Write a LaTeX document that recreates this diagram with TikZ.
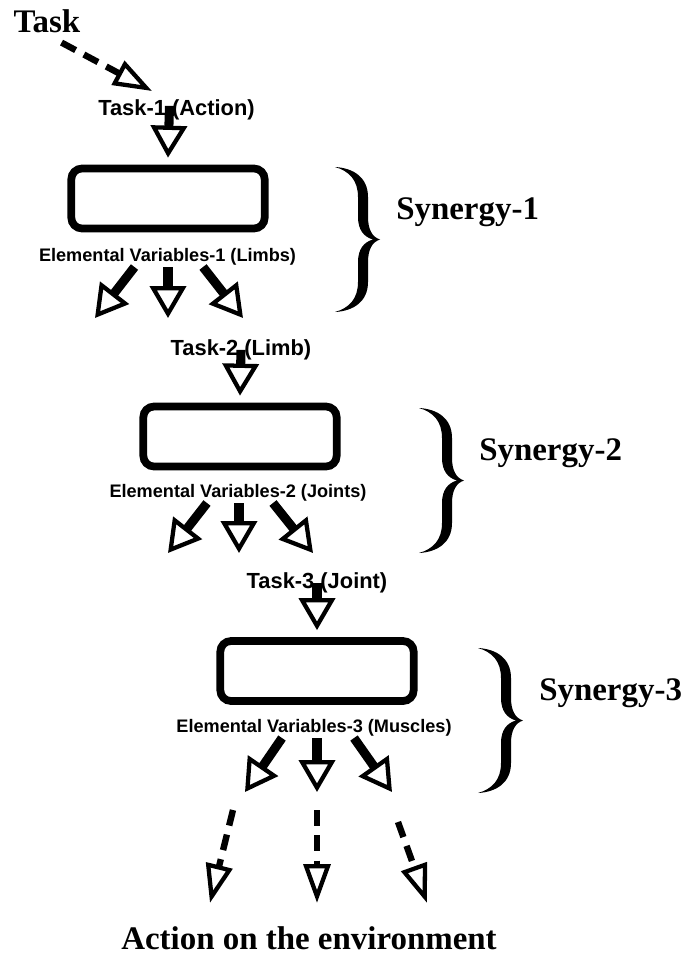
\documentclass[tikz,border=0pt]{standalone}
\usepackage{fontspec}
\setmainfont{Liberation Serif}
\setsansfont{Liberation Sans}
\usetikzlibrary{arrows.meta,calc}

\tikzset{
	synbox/.style={draw, line width=5.8pt, rounded corners=8pt, minimum width=145pt, minimum height=45pt, inner sep=0pt},
	fatarrow/.style={line width=6.8pt, -{Triangle[open, length=24pt, width=27pt, line width=3.2pt]}},
	dasharrow/.style={line width=4.8pt, dash pattern=on 12pt off 7pt, -{Triangle[open, length=29pt, width=20pt, line width=3.2pt]}},
	biglab/.style={font=\rmfamily\bfseries\fontsize{24.7}{28}\selectfont, inner sep=0.75pt},
	tasklab/.style={font=\sffamily\bfseries\fontsize{16.4}{18}\selectfont, inner sep=0.75pt},
	evlab/.style={font=\sffamily\bfseries\fontsize{13.6}{16}\selectfont, inner sep=0.75pt},
}

% curly brace, 45 wide and 145 high, top left corner at #1
\newcommand{\synergybrace}[1]{%
	\fill [shift={#1}] (0,0) .. controls (18,1) and (33,10) .. (33,30) -- (33,50)
		.. controls (33,62) and (37,70) .. (45,72.5)
		.. controls (37,75) and (33,83) .. (33,95) -- (33,115)
		.. controls (33,135) and (18,144) .. (0,145)
		.. controls (14,141) and (23,132) .. (23,115) -- (23,95)
		.. controls (23,82) and (29,75) .. (38,72.5)
		.. controls (29,70) and (23,63) .. (23,50) -- (23,30)
		.. controls (23,13) and (14,4) .. (0,0) -- cycle;}

\begin{document}
\begin{tikzpicture}[x=0.75pt,y=0.75pt,yscale=-1,xscale=1]
	\useasboundingbox (0,0) rectangle (687,956);
	% level 1
	\draw (47,33) node [biglab, anchor=base] (task) {Task};
	\draw (176.5,115) node [tasklab, anchor=base] (t1) {Task-1 (Action)};
	\draw (168,198.5) node [synbox] (box1) {};
	\draw (167.5,261) node [evlab, anchor=base] (ev1) {Elemental Variables-1 (Limbs)};
	\synergybrace{(335,167)}
	\draw (395,219) node [biglab, anchor=base west] (syn1) {Synergy-1};
	% level 2
	\draw (241,355) node [tasklab, anchor=base] (t2) {Task-2 (Limb)};
	\draw (240,436.5) node [synbox] (box2) {};
	\draw (238,497) node [evlab, anchor=base] (ev2) {Elemental Variables-2 (Joints)};
	\synergybrace{(419,408)}
	\draw (478,460) node [biglab, anchor=base west] (syn2) {Synergy-2};
	% level 3
	\draw (317,588) node [tasklab, anchor=base] (t3) {Task-3 (Joint)};
	\draw (317,671) node [synbox] (box3) {};
	\draw (314,732) node [evlab, anchor=base] (ev3) {Elemental Variables-3 (Muscles)};
	\synergybrace{(478,648)}
	\draw (538,700) node [biglab, anchor=base west] (syn3) {Synergy-3};
	\draw (309,949) node [biglab, anchor=base] (act) {Action on the environment};

	% free ends of the arrows
	\coordinate (tin) at (152,91);
	\coordinate (f1a) at (95,318);
	\coordinate (f1b) at (168,318);
	\coordinate (f1c) at (243,318);
	\coordinate (f2a) at (168,553);
	\coordinate (f2b) at (239,553);
	\coordinate (f2c) at (313,553);
	\coordinate (f3a) at (245,792);
	\coordinate (f3b) at (317,792);
	\coordinate (f3c) at (392,792);
	\coordinate (o1) at (233,810);
	\coordinate (o2) at (317,810);
	\coordinate (o3) at (398,822);

	\draw [dasharrow] ($(task.south east)+(-20,8)$) -- (tin);
	\draw [fatarrow] ($(t1.north)+(-7,8)$) -- ($(box1.north)+(0,-7)$);
	\draw [fatarrow] ($(ev1.south)+(-33,1)$) -- (f1a);
	\draw [fatarrow] ($(ev1.south)+(0.5,1)$) -- (f1b);
	\draw [fatarrow] ($(ev1.south)+(35.5,1)$) -- (f1c);
	\draw [fatarrow] ($(t2.north)+(0,12)$) -- ($(box2.north)+(0,-7)$);
	\draw [fatarrow] ($(ev2.south)+(-31,1)$) -- (f2a);
	\draw [fatarrow] ($(ev2.south)+(1,1)$) -- (f2b);
	\draw [fatarrow] ($(ev2.south)+(35,1)$) -- (f2c);
	\draw [fatarrow] ($(t3.north)+(0,12)$) -- ($(box3.north)+(0,-7)$);
	\draw [fatarrow] ($(ev3.south)+(-32,1)$) -- (f3a);
	\draw [fatarrow] ($(ev3.south)+(3,1)$) -- (f3b);
	\draw [fatarrow] ($(ev3.south)+(40,1)$) -- (f3c);
	\draw [dasharrow] (o1) -- ($(act.north)+(-99,-22)$);
	\draw [dasharrow] (o2) -- ($(act.north)+(8,-22)$);
	\draw [dasharrow] (o3) -- ($(act.north)+(118,-22)$);
\end{tikzpicture}
\end{document}
